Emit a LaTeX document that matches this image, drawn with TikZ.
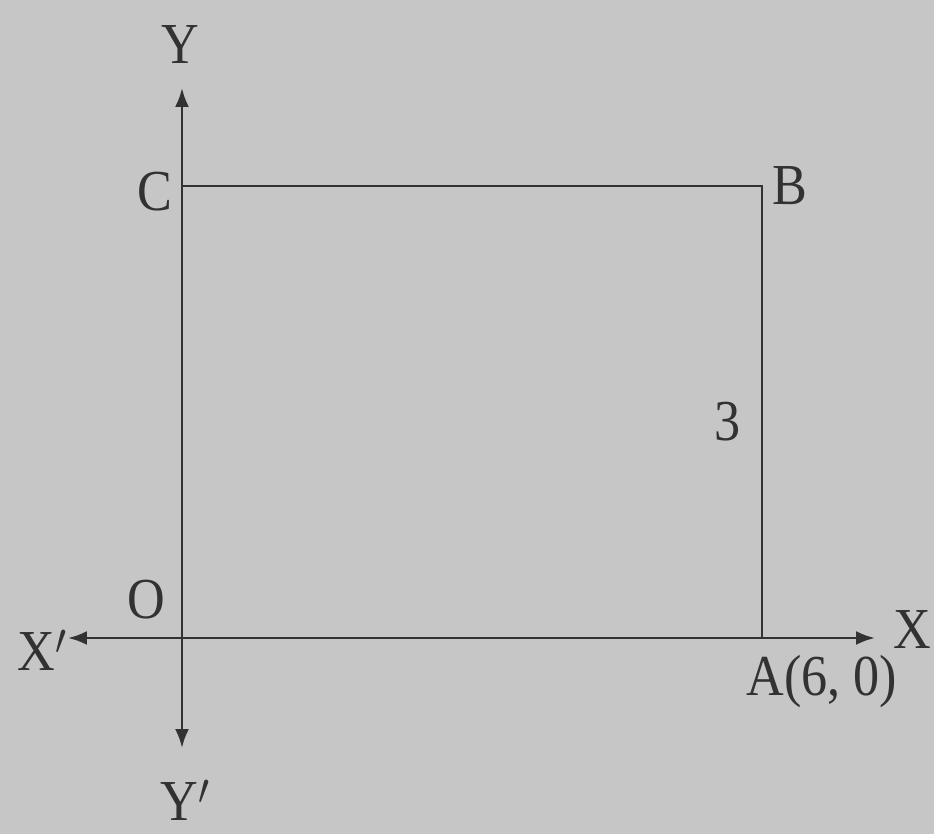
\documentclass[tikz,border=0pt]{standalone}
\usepackage{fontspec}
\setmainfont{Liberation Serif}
\usetikzlibrary{arrows.meta,positioning}
\definecolor{paper}{RGB}{198,198,198}
\definecolor{ink}{RGB}{50,50,50}
\tikzset{
  axis/.style={{Latex[length=3.8mm,width=2.8mm]}-{Latex[length=3.8mm,width=2.8mm]}, line width=1.5pt, draw=ink},
  side/.style={line width=1.1pt, draw=ink},
  lbl/.style={text=ink, font=\fontsize{33}{38}\selectfont, inner sep=0pt, xscale=0.9}
}
\begin{document}
\begin{tikzpicture}[x=0.02cm,y=-0.02cm]
\fill[paper] (0,0) rectangle (934,834);
% corners of the rectangle
\coordinate (O) at (182,638);
\coordinate (A) at (762,638);
\coordinate (B) at (762,186);
\coordinate (C) at (182,186);
% axis ends
\coordinate (xl) at (68,638);
\coordinate (xr) at (875,638);
\coordinate (yt) at (182,88);
\coordinate (yb) at (182,748);
\draw[axis] (xl) -- (xr);
\draw[axis] (yb) -- (yt);
\draw[side] (C) -- (B) -- (A);
% labels
\node[lbl] (ly) at (180,45) {Y};
\node[lbl] (lyy) at (185,800) {Y$'$};
\node[lbl] (lxx) at (42,650) {X$'$};
\node[lbl] (lx) at (912,630) {X};
\node[lbl] (lc) at (155,192) {C};
\node[lbl] (lb) at (790,186) {B};
\node[lbl] (lo) at (146,600) {O};
\node[lbl] (la) at (822,682) {A(6, 0)};
\node[lbl] (l3) at (728,422) {3};
\end{tikzpicture}
\end{document}
